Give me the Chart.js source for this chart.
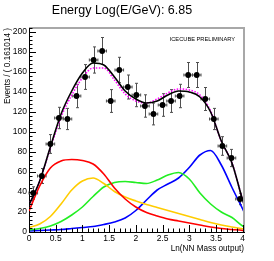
<!DOCTYPE html>
<html>
<head>
<meta charset="utf-8">
<script src="https://cdn.jsdelivr.net/npm/chart.js@4"></script>
<style>
  html, body { margin: 0; padding: 0; background: #fff; }
</style>
</head>
<body>
<canvas id="grafico" width="274" height="261"></canvas>
<script>
// Dados
const binCenters = [0.08, 0.24, 0.40, 0.56, 0.72, 0.89, 1.05, 1.21, 1.37, 1.53, 1.69, 1.85, 2.01, 2.17, 2.33, 2.50, 2.66, 2.82, 2.98, 3.14, 3.30, 3.46, 3.62, 3.79, 3.95];
const counts = [39, 56, 88, 114, 113, 136, 155, 172, 181, 131, 162, 145, 137, 126, 118, 127, 131, 136, 157, 157, 133, 113, 86, 74, 33];
const countErrors = [6.2, 7.5, 9.4, 10.7, 10.6, 11.7, 12.4, 13.1, 13.5, 11.4, 12.7, 12.0, 11.7, 11.2, 10.9, 11.3, 11.4, 11.7, 12.5, 12.5, 11.5, 10.6, 9.3, 8.6, 5.7];
const binHalfWidth = 0.0805;

const curveX = [0, 0.2, 0.4, 0.6, 0.8, 1.0, 1.2, 1.4, 1.6, 1.8, 2.0, 2.2, 2.4, 2.6, 2.8, 3.0, 3.2, 3.4, 3.6, 3.8, 4.0, 4.025];
const totalFit = [27, 51, 85, 118, 141, 159, 169, 167, 155, 141, 133, 129, 131, 137, 141, 140, 135, 120, 91, 69, 32, 28];
const totalAlt = [27, 51, 84, 115, 137, 154, 164, 164, 152, 138, 131, 129, 133, 139, 143, 142, 137, 121, 91, 69, 32, 28];
const redComp = [21, 46, 64, 71, 72.5, 71.5, 68, 58, 44, 33, 25, 19.5, 16, 13, 11, 9, 7, 5, 3.5, 2.5, 1.5, 1.3];
const yellowComp = [4.5, 8, 15.5, 28, 42, 51, 54, 48.5, 40.5, 35, 31, 27.5, 24.5, 21.5, 18.5, 15.5, 12.5, 9.5, 7, 5, 3.2, 3];
const greenComp = [2, 3.5, 6, 10.5, 17, 25, 35.5, 45, 49.5, 50.5, 49.5, 48.5, 52, 57, 59.5, 53, 39, 28, 20, 14.5, 6, 5.3];
const blueComp = [1, 1.5, 2, 2.5, 3.5, 4.5, 5.5, 7.5, 10, 14, 21.5, 32, 42, 48, 54, 64.5, 77, 81.5, 67, 44.5, 23, 20.3];

const pontos = (xs, ys) => xs.map((x, i) => ({ x: x, y: ys[i] }));

function curva(ys, cor, extra) {
    return Object.assign({
        data: pontos(curveX, ys),
        showLine: true,
        borderColor: cor,
        borderWidth: 1.6,
        pointRadius: 0,
        cubicInterpolationMode: 'monotone',
        fill: false
    }, extra || {});
}

const FONTE = 'Liberation Sans, Arial, Helvetica, sans-serif';

// fundo branco
const fundo = {
    id: 'fundo',
    beforeDraw(chart) {
        const c = chart.ctx;
        c.save();
        c.fillStyle = '#fff';
        c.fillRect(0, 0, chart.width, chart.height);
        c.restore();
    }
};

// barras de erro (estilo ROOT)
const barrasErro = {
    id: 'barrasErro',
    beforeDatasetsDraw(chart) {
        const c = chart.ctx, xs = chart.scales.x, ys = chart.scales.y;
        c.save();
        c.strokeStyle = '#505050';
        c.lineWidth = 1;
        binCenters.forEach((x, i) => {
            const px = Math.round(xs.getPixelForValue(x)) + 0.5;
            const py = ys.getPixelForValue(counts[i]);
            const top = ys.getPixelForValue(counts[i] + countErrors[i]);
            const bot = ys.getPixelForValue(counts[i] - countErrors[i]);
            const l = xs.getPixelForValue(x - binHalfWidth);
            const r = xs.getPixelForValue(x + binHalfWidth);
            c.beginPath();
            c.moveTo(px, top); c.lineTo(px, bot);
            c.moveTo(px - 1.5, top); c.lineTo(px + 1.5, top);
            c.moveTo(px - 1.5, bot); c.lineTo(px + 1.5, bot);
            c.moveTo(l, py); c.lineTo(r, py);
            c.moveTo(l, py - 1.5); c.lineTo(l, py + 1.5);
            c.moveTo(r, py - 1.5); c.lineTo(r, py + 1.5);
            c.stroke();
        });
        c.restore();
    }
};

// moldura e marcas para dentro
const moldura = {
    id: 'moldura',
    afterDraw(chart) {
        const c = chart.ctx, a = chart.chartArea;
        const xs = chart.scales.x, ys = chart.scales.y;
        c.save();
        c.strokeStyle = '#a8a8a8';
        c.lineWidth = 2;
        c.beginPath();
        c.moveTo(a.left, a.top); c.lineTo(a.right, a.top); c.lineTo(a.right, a.bottom);
        c.stroke();

        c.strokeStyle = '#000';
        c.lineWidth = 1;
        c.beginPath();
        for (let v = 0; v <= 204; v += 4) {
            const py = Math.round(ys.getPixelForValue(v)) + 0.5;
            const len = v % 20 === 0 ? 7 : 3.5;
            c.moveTo(a.left, py); c.lineTo(a.left + len, py);
        }
        for (let k = 0; k <= 40; k++) {
            const px = Math.round(xs.getPixelForValue(k / 10)) + 0.5;
            const len = k % 5 === 0 ? 7 : 3.5;
            c.moveTo(px, a.bottom); c.lineTo(px, a.bottom - len);
        }
        c.stroke();

        c.fillStyle = '#000';
        c.font = '5.7px ' + FONTE;
        c.textAlign = 'right';
        c.textBaseline = 'middle';
        c.fillText('ICECUBE PRELIMINARY', a.right - 9, a.top + 11);
        c.restore();
    }
};

const ctx = document.getElementById('grafico').getContext('2d');
const grafico = new Chart(ctx, {
    type: 'scatter',
    data: {
        datasets: [
            {
                label: 'dados',
                data: pontos(binCenters, counts),
                pointRadius: 2.9,
                pointBackgroundColor: '#000',
                pointBorderWidth: 0,
                showLine: false
            },
            curva(totalFit, '#000'),
            curva(totalAlt, '#ff00ff', { borderDash: [1.5, 1.5] }),
            curva(redComp, '#ff0000'),
            curva(yellowComp, '#ffcc00'),
            curva(greenComp, '#22ee22'),
            curva(blueComp, '#0000ff')
        ]
    },
    options: {
        responsive: false,
        animation: false,
        layout: { padding: { left: 0, right: 30, top: 0, bottom: 0 } },
        plugins: {
            legend: { display: false },
            tooltip: { enabled: false },
            title: {
                display: true,
                text: 'Energy Log(E/GeV): 6.85',
                color: '#000',
                font: { family: FONTE, size: 12.5, weight: 'normal' },
                padding: { top: 3, bottom: 10 }
            }
        },
        scales: {
            x: {
                type: 'linear',
                min: 0,
                max: 4.025,
                afterFit(s) { s.height = 29; },
                grid: { display: false, drawTicks: false },
                border: { display: true, color: '#000', width: 1 },
                ticks: {
                    stepSize: 0.5,
                    includeBounds: false,
                    maxRotation: 0,
                    autoSkip: false,
                    padding: 2,
                    color: '#000',
                    font: { family: FONTE, size: 8.5 },
                    callback: v => String(v)
                },
                title: {
                    display: true,
                    text: 'Ln(NN Mass output)',
                    align: 'end',
                    color: '#000',
                    font: { family: FONTE, size: 8.2 },
                    padding: { top: 0, bottom: 7.5 }
                }
            },
            y: {
                type: 'linear',
                min: 0,
                max: 204,
                afterFit(s) { s.width = 29; },
                grid: { display: false, drawTicks: false },
                border: { display: true, color: '#000', width: 1 },
                ticks: {
                    stepSize: 20,
                    includeBounds: false,
                    autoSkip: false,
                    padding: 2,
                    color: '#000',
                    font: { family: FONTE, size: 8.5 },
                    callback: v => String(v)
                },
                title: {
                    display: true,
                    text: 'Events / ( 0.161014 )',
                    align: 'end',
                    color: '#000',
                    font: { family: FONTE, size: 8.2 },
                    padding: { top: 3, bottom: 0 }
                }
            }
        }
    },
    plugins: [fundo, barrasErro, moldura]
});
</script>
</body>
</html>
